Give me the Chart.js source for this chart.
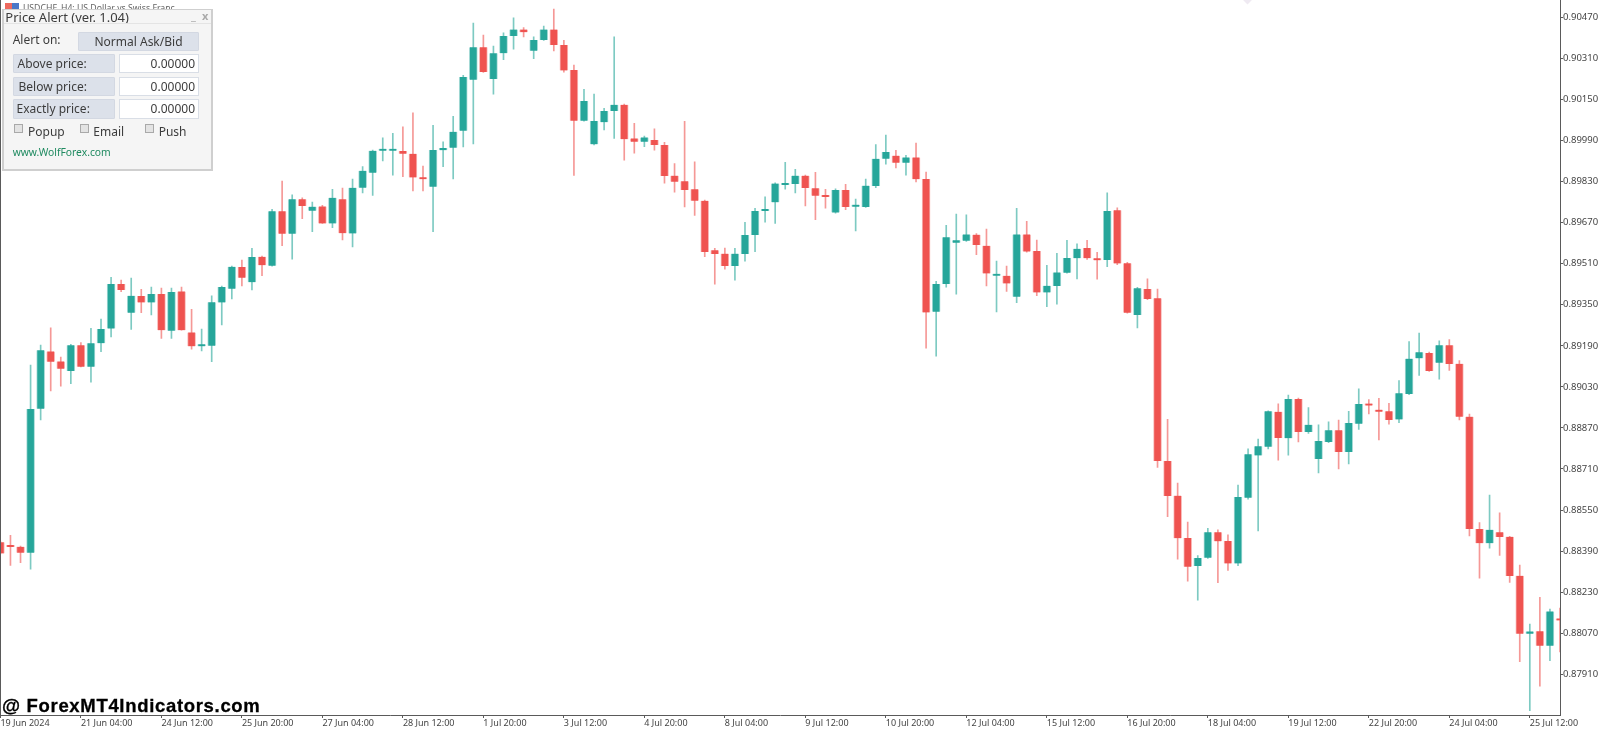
<!DOCTYPE html>
<html>
<head>
<meta charset="utf-8">
<title>USDCHF H4</title>
<script src="https://cdn.jsdelivr.net/npm/chart.js@4"></script>
<style>
    html, body { margin: 0; padding: 0; background: #fff; overflow: hidden; }
    #wrap { position: relative; width: 1600px; height: 731px; font-family: "Noto Sans", sans-serif; }
    #chart { position: absolute; left: 0; top: 0; }
    #left-line { position: absolute; left: 0; top: 0; width: 1px; height: 715px; background: #5a5a5a; }
    #symbol { position: absolute; left: 23px; top: 2px; font-size: 8.7px; color: #666; white-space: nowrap; filter: blur(.4px); }
    .icon { position: absolute; top: 3px; height: 7px; width: 7px; }
    #diamond { position: absolute; left: 1244px; top: -4px; width: 7px; height: 7px; background: #efeaf2; transform: rotate(45deg); }
    #mark { position: absolute; left: 2px; top: 694.5px; font: bold 18.5px "Liberation Sans", sans-serif; color: #000; white-space: nowrap; letter-spacing: .68px; -webkit-text-stroke: .3px #000; }
    #panel { position: absolute; left: 2px; top: 9px; width: 207px; height: 159px; background: #f5f5f5; border: 2px solid #cfcfcf; border-top-width: 1px; color: #3c3c3c; font-size: 12px; }
    #panel div { position: absolute; white-space: nowrap; box-sizing: border-box; }
    #panel .sep { left: 0; top: 13px; width: 100%; height: 1px; background: #e4e4e4; }
    #panel .btn { background: #dce1ea; border: 1px solid #d3d8e2; border-radius: 1px; text-align: center; }
    #panel .lbl { background: #dce1ea; border: 1px solid #d3d8e2; border-radius: 1px; }
    #panel .field { background: #fff; border: 1px solid #d9dee6; text-align: right; padding-right: 3px; }
    #panel .check { width: 9px; height: 9px; background: #e3e3e3; border: 1px solid #a9a9a9; }
</style>
</head>
<body>
<div id="wrap">
    <canvas id="chart" width="1600" height="731"></canvas>
    <div id="left-line"></div>
    <div id="diamond"></div>
    <div id="symbol">USDCHF, H4: US Dollar vs Swiss Franc</div>
    <div class="icon" style="left:5px;background:#ee6a5f"></div>
    <div class="icon" style="left:12px;background:#4a78c8"></div>
    <div id="mark">@ ForexMT4Indicators.com</div>
    <div id="panel">
        <div style="left:1.3px;top:0;font-size:13px;line-height:15px">Price Alert (ver. 1.04)</div>
        <div style="left:187px;top:-1px;color:#aaa;line-height:14px;font-size:11px">_</div>
        <div style="left:198px;top:-1px;color:#aaa;line-height:14px;font-size:11px;font-weight:bold">x</div>
        <div class="sep"></div>
        <div style="left:8.7px;top:21px;line-height:18px">Alert on:</div>
        <div class="btn" style="left:74px;top:22px;width:121px;height:19px;line-height:17px">Normal Ask/Bid</div>
        <div class="lbl" style="left:8.5px;top:44px;width:102px;height:19px;line-height:17px;padding-left:4px">Above price:</div>
        <div class="field" style="left:114.5px;top:44px;width:80.5px;height:19px;line-height:17px">0.00000</div>
        <div class="lbl" style="left:8.5px;top:67px;width:102px;height:19px;line-height:17px;padding-left:5px">Below price:</div>
        <div class="field" style="left:114.5px;top:67px;width:80.5px;height:19px;line-height:17px">0.00000</div>
        <div class="lbl" style="left:8.5px;top:89px;width:102px;height:20px;line-height:18px;padding-left:3px">Exactly price:</div>
        <div class="field" style="left:114.5px;top:89px;width:80.5px;height:20px;line-height:18px">0.00000</div>
        <div class="check" style="left:10px;top:114px"></div>
        <div style="left:24px;top:113px;line-height:18px">Popup</div>
        <div class="check" style="left:76px;top:114px"></div>
        <div style="left:89.3px;top:113px;line-height:18px">Email</div>
        <div class="check" style="left:141.3px;top:114px"></div>
        <div style="left:154.7px;top:113px;line-height:18px">Push</div>
        <div style="left:8.7px;top:135px;font-size:10.3px;line-height:15px;color:#1f8a60">www.WolfForex.com</div>
    </div>
</div>
<script>
const opens = [
    0.88425, 0.88408, 0.88407, 0.88384, 0.88945, 0.89168, 0.89129, 0.89092, 0.89192, 0.89108, 0.89200, 0.89257, 0.89431,
    0.89319, 0.89384, 0.89359, 0.89392, 0.89249, 0.89402, 0.89242, 0.89188, 0.89190, 0.89359, 0.89412, 0.89497, 0.89438,
    0.89537, 0.89502, 0.89714, 0.89627, 0.89761, 0.89716, 0.89733, 0.89667, 0.89761, 0.89628, 0.89806, 0.89864, 0.89950,
    0.89950, 0.89949, 0.89938, 0.89846, 0.89810, 0.89952, 0.89962, 0.90028, 0.90227, 0.90353, 0.90230, 0.90330, 0.90397,
    0.90422, 0.90340, 0.90382, 0.90422, 0.90362, 0.90265, 0.90067, 0.89975, 0.90061, 0.90105, 0.90129, 0.89998, 0.89985,
    0.89992, 0.89972, 0.89853, 0.89831, 0.89800, 0.89755, 0.89562, 0.89549, 0.89501, 0.89548, 0.89622, 0.89715, 0.89749,
    0.89817, 0.89820, 0.89853, 0.89804, 0.89775, 0.89709, 0.89797, 0.89732, 0.89731, 0.89813, 0.89919, 0.89931, 0.89903,
    0.89924, 0.89840, 0.89323, 0.89431, 0.89592, 0.89599, 0.89623, 0.89580, 0.89463, 0.89463, 0.89381, 0.89624, 0.89559,
    0.89398, 0.89423, 0.89475, 0.89531, 0.89571, 0.89531, 0.89524, 0.89718, 0.89512, 0.89310, 0.89411, 0.89375, 0.88741,
    0.88606, 0.88441, 0.88332, 0.88364, 0.88463, 0.88429, 0.88342, 0.88598, 0.88763, 0.88797, 0.88933, 0.88830, 0.88983,
    0.88854, 0.88749, 0.88815, 0.88861, 0.88776, 0.88886, 0.88959, 0.88941, 0.88935, 0.88903, 0.89002, 0.89141, 0.89162,
    0.89124, 0.89192, 0.89120, 0.88914, 0.88476, 0.88421, 0.88463, 0.88446, 0.88294, 0.88068, 0.88078, 0.88021, 0.88122
];
const highs = [
    0.88429, 0.88451, 0.88410, 0.89115, 0.89193, 0.89260, 0.89146, 0.89196, 0.89203, 0.89258, 0.89294, 0.89457, 0.89446,
    0.89454, 0.89410, 0.89419, 0.89415, 0.89415, 0.89419, 0.89332, 0.89255, 0.89385, 0.89423, 0.89501, 0.89524, 0.89570,
    0.89540, 0.89722, 0.89832, 0.89778, 0.89767, 0.89750, 0.89737, 0.89800, 0.89805, 0.89840, 0.89888, 0.89953, 0.90000,
    0.90018, 0.90043, 0.90098, 0.89890, 0.90049, 0.89985, 0.90084, 0.90244, 0.90447, 0.90401, 0.90358, 0.90409, 0.90468,
    0.90430, 0.90394, 0.90436, 0.90502, 0.90380, 0.90284, 0.90189, 0.90171, 0.90115, 0.90394, 0.90132, 0.90057, 0.90007,
    0.90035, 0.89983, 0.89900, 0.90065, 0.89907, 0.89758, 0.89570, 0.89571, 0.89570, 0.89671, 0.89726, 0.89770, 0.89825,
    0.89905, 0.89878, 0.89855, 0.89866, 0.89800, 0.89802, 0.89819, 0.89762, 0.89840, 0.89974, 0.90011, 0.89952, 0.89932,
    0.89980, 0.89867, 0.89441, 0.89659, 0.89703, 0.89700, 0.89627, 0.89645, 0.89520, 0.89501, 0.89726, 0.89675, 0.89602,
    0.89504, 0.89550, 0.89601, 0.89587, 0.89601, 0.89554, 0.89786, 0.89728, 0.89515, 0.89418, 0.89451, 0.89411, 0.88903,
    0.88655, 0.88503, 0.88373, 0.88479, 0.88473, 0.88453, 0.88647, 0.88789, 0.88827, 0.88937, 0.88964, 0.88998, 0.88986,
    0.88949, 0.88882, 0.88894, 0.88901, 0.88935, 0.89022, 0.88980, 0.88985, 0.88966, 0.89054, 0.89206, 0.89240, 0.89166,
    0.89209, 0.89214, 0.89132, 0.88924, 0.88501, 0.88608, 0.88539, 0.88448, 0.88336, 0.88106, 0.88210, 0.88164, 0.88168
];
const lows = [
    0.88379, 0.88334, 0.88345, 0.88320, 0.88901, 0.89014, 0.89033, 0.89042, 0.89108, 0.89048, 0.89167, 0.89225, 0.89401,
    0.89254, 0.89319, 0.89310, 0.89219, 0.89219, 0.89251, 0.89177, 0.89170, 0.89128, 0.89271, 0.89373, 0.89423, 0.89408,
    0.89463, 0.89500, 0.89580, 0.89528, 0.89685, 0.89635, 0.89667, 0.89650, 0.89603, 0.89575, 0.89786, 0.89776, 0.89910,
    0.89855, 0.89849, 0.89793, 0.89793, 0.89635, 0.89888, 0.89840, 0.89965, 0.89977, 0.90255, 0.90170, 0.90305, 0.90346,
    0.90394, 0.90309, 0.90380, 0.90339, 0.90256, 0.89854, 0.90065, 0.89973, 0.90031, 0.89998, 0.89913, 0.89941, 0.89966,
    0.89952, 0.89824, 0.89789, 0.89731, 0.89698, 0.89537, 0.89430, 0.89489, 0.89446, 0.89520, 0.89557, 0.89672, 0.89667,
    0.89800, 0.89786, 0.89735, 0.89681, 0.89726, 0.89707, 0.89720, 0.89638, 0.89729, 0.89806, 0.89898, 0.89883, 0.89855,
    0.89829, 0.89181, 0.89150, 0.89418, 0.89391, 0.89597, 0.89545, 0.89423, 0.89322, 0.89402, 0.89358, 0.89555, 0.89385,
    0.89342, 0.89352, 0.89473, 0.89451, 0.89527, 0.89450, 0.89498, 0.89506, 0.89317, 0.89260, 0.89370, 0.88716, 0.88524,
    0.88359, 0.88273, 0.88199, 0.88362, 0.88267, 0.88315, 0.88333, 0.88592, 0.88469, 0.88788, 0.88744, 0.88764, 0.88815,
    0.88849, 0.88695, 0.88813, 0.88710, 0.88730, 0.88864, 0.88925, 0.88823, 0.88885, 0.88890, 0.89000, 0.89075, 0.89090,
    0.89060, 0.89094, 0.88901, 0.88449, 0.88285, 0.88401, 0.88373, 0.88268, 0.87959, 0.87768, 0.87864, 0.87963, 0.87997
];
const closes = [
    0.88381, 0.88406, 0.88384, 0.88944, 0.89173, 0.89128, 0.89101, 0.89192, 0.89108, 0.89200, 0.89255, 0.89431, 0.89407,
    0.89385, 0.89359, 0.89392, 0.89251, 0.89400, 0.89251, 0.89188, 0.89193, 0.89360, 0.89419, 0.89498, 0.89455, 0.89536,
    0.89504, 0.89714, 0.89627, 0.89761, 0.89735, 0.89732, 0.89667, 0.89767, 0.89629, 0.89806, 0.89872, 0.89950, 0.89952,
    0.89952, 0.89938, 0.89846, 0.89839, 0.89953, 0.89961, 0.90024, 0.90237, 0.90353, 0.90257, 0.90330, 0.90397, 0.90422,
    0.90412, 0.90382, 0.90422, 0.90362, 0.90263, 0.90067, 0.90144, 0.90066, 0.90105, 0.90129, 0.89995, 0.89985, 0.90002,
    0.89972, 0.89852, 0.89829, 0.89797, 0.89755, 0.89555, 0.89548, 0.89501, 0.89549, 0.89622, 0.89715, 0.89723, 0.89822,
    0.89822, 0.89853, 0.89805, 0.89775, 0.89770, 0.89797, 0.89731, 0.89734, 0.89814, 0.89919, 0.89945, 0.89903, 0.89924,
    0.89839, 0.89320, 0.89431, 0.89613, 0.89601, 0.89624, 0.89583, 0.89472, 0.89468, 0.89433, 0.89624, 0.89557, 0.89398,
    0.89424, 0.89476, 0.89532, 0.89568, 0.89531, 0.89523, 0.89715, 0.89511, 0.89319, 0.89414, 0.89372, 0.88741, 0.88605,
    0.88440, 0.88329, 0.88363, 0.88463, 0.88428, 0.88342, 0.88601, 0.88767, 0.88799, 0.88935, 0.88831, 0.88983, 0.88854,
    0.88882, 0.88819, 0.88861, 0.88776, 0.88889, 0.88963, 0.88957, 0.88933, 0.88901, 0.89005, 0.89140, 0.89165, 0.89092,
    0.89192, 0.89119, 0.88914, 0.88476, 0.88421, 0.88473, 0.88445, 0.88293, 0.88068, 0.88077, 0.88021, 0.88155, 0.88120
];
const dateLabels = [
    '19 Jun 2024', '21 Jun 04:00', '24 Jun 12:00', '25 Jun 20:00', '27 Jun 04:00', '28 Jun 12:00', '1 Jul 20:00',
    '3 Jul 12:00', '4 Jul 20:00', '8 Jul 04:00', '9 Jul 12:00', '10 Jul 20:00', '12 Jul 04:00', '15 Jul 12:00',
    '16 Jul 20:00', '18 Jul 04:00', '19 Jul 12:00', '22 Jul 20:00', '24 Jul 04:00', '25 Jul 12:00'
];
const priceTicks = [
    0.90470, 0.90310, 0.90150, 0.89990, 0.89830, 0.89670, 0.89510, 0.89350, 0.89190,
    0.89030, 0.88870, 0.88710, 0.88550, 0.88390, 0.88230, 0.88070, 0.87910
];
const priceMax = 0.905374;
const priceMin = 0.877514;
const labelEvery = 8;

const UP = '#26a69a';
const DOWN = '#ef5350';
const UP_EDGE = 'rgba(38,166,154,.4)';
const DOWN_EDGE = 'rgba(239,83,80,.4)';
const UP_WICK = 'rgba(38,166,154,.6)';
const DOWN_WICK = 'rgba(239,83,80,.6)';
const AXIS = '#5a5a5a';

const isUp = opens.map((o, i) => closes[i] >= o);

new Chart(document.getElementById('chart'), {
    type: 'bar',
    data: {
        labels: opens.map((o, i) => i),
        datasets: [{
            data: opens.map((o, i) => [o, closes[i]]),
            backgroundColor: isUp.map(u => u ? UP : DOWN),
            borderColor: isUp.map(u => u ? UP_EDGE : DOWN_EDGE),
            borderWidth: { left: 1, right: 1, top: 0, bottom: 0 },
            borderSkipped: false,
            barThickness: 8,
            minBarLength: 2,
            grouped: false
        }, {
            data: lows.map((l, i) => [l, highs[i]]),
            backgroundColor: isUp.map(u => u ? UP_WICK : DOWN_WICK),
            barThickness: 1,
            grouped: false
        }]
    },
    options: {
        responsive: false,
        animation: false,
        events: [],
        layout: { padding: { left: 0.4 } },
        plugins: { legend: { display: false }, tooltip: { enabled: false } },
        scales: {
            x: {
                offset: false,
                // the plot runs right up to the canvas edges, so drop the room kept for tick labels
                afterFit: s => { s.height = 16; s.paddingLeft = 0; s.paddingRight = 0; },
                border: { color: AXIS },
                grid: {
                    offset: false,
                    drawOnChartArea: false,
                    tickLength: 3,
                    tickColor: c => c.index % labelEvery === 0 ? AXIS : 'transparent'
                },
                ticks: {
                    autoSkip: false,
                    maxRotation: 0,
                    minRotation: 0,
                    align: 'start',
                    padding: 0,
                    color: '#444',
                    font: { family: 'Noto Sans', size: 9 },
                    callback: (v, i) => i % labelEvery === 0 ? dateLabels[i / labelEvery] : ''
                }
            },
            y: {
                position: 'right',
                min: priceMin,
                max: priceMax,
                afterFit: s => { s.width = 40; s.paddingTop = 0; s.paddingBottom = 0; },
                afterBuildTicks: s => { s.ticks = priceTicks.map(v => ({ value: v })); },
                border: { color: AXIS },
                grid: { drawOnChartArea: false, tickLength: 3, tickColor: AXIS },
                ticks: {
                    padding: 0,
                    color: '#444',
                    font: { family: 'Noto Sans', size: 9.5 },
                    callback: v => v.toFixed(5)
                }
            }
        }
    }
});
</script>
</body>
</html>
